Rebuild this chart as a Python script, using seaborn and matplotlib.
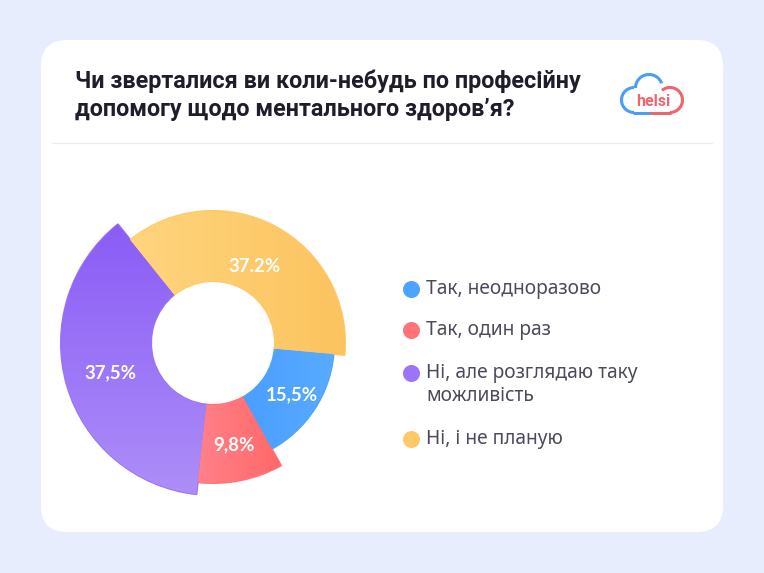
import numpy as np
import seaborn as sns
import matplotlib.pyplot as plt
from matplotlib.patches import FancyBboxPatch, Arc
from matplotlib.colors import LinearSegmentedColormap

# data
categories = ['Так, неодноразово', 'Так, один раз',
              'Ні, але розглядаю таку\nможливість', 'Ні, і не планую']
shares = [15.5, 9.8, 37.5, 37.2]
share_labels = ['15,5%', '9,8%', '37,5%', '37.2%']

title_lines = ['Чи зверталися ви коли-небудь по професійну',
               'допомогу щодо ментального здоров’я?']

# styling (pixel units, figure is 764x573)
W, H = 764, 573
outer_r = [121, 140, 152, 132]
label_r = [94, 104, 107, 87]
hole_r = 62
centre = (213, H - 343)
base_colors = ['#4DA3FF', '#FF7379', '#9B74F7', '#FEC966']
grad_colors = [('#4A9EFF', '#58ABFF', 'x'),
               ('#FF8189', '#FF6868', 'x'),
               ('#8A5CF6', '#AD8EF8', 'y'),
               ('#FFD57E', '#FCC35E', 'x')]
legend_y = [289, 330, 373, 439]

sns.set_theme(style='white')
plt.rcParams['font.family'] = ['Noto Sans', 'DejaVu Sans']

fig = plt.figure(figsize=(W / 100, H / 100), dpi=100, facecolor='#E7EDFC')
ax = fig.add_axes([0, 0, 1, 1])
ax.set_facecolor('#E7EDFC')

# white card
card = FancyBboxPatch((41, H - 532), 682, 492,
                      boxstyle='round,pad=0,rounding_size=26',
                      facecolor='white', edgecolor='none', zorder=0)
ax.add_patch(card)
ax.plot([52, 712], [H - 143, H - 143], color='#EDEDF1', lw=1, zorder=1)

# title
for i, line in enumerate(title_lines):
    ax.text(75, H - 88 - i * 28, line, fontsize=16.8, fontweight='bold',
            color='#1E1E2B', family=['Roboto', 'DejaVu Sans'],
            va='baseline', ha='left', zorder=3)

# logo
blue, red = '#4A9FF5', '#F0646E'
ax.add_patch(Arc((634, H - 100), 25, 25, theta1=90, theta2=270,
                 color=blue, lw=2.2, zorder=3))
ax.add_patch(Arc((649, H - 88), 27, 27, theta1=20, theta2=180,
                 color=blue, lw=2.2, zorder=3))
ax.plot([634, 651], [H - 112.5, H - 112.5], color=blue, lw=2.2,
        solid_capstyle='round', zorder=3)
ax.add_patch(Arc((670, H - 100), 25, 25, theta1=-90, theta2=130,
                 color=red, lw=2.2, zorder=3))
ax.plot([651, 670], [H - 112.5, H - 112.5], color=red, lw=2.2,
        solid_capstyle='round', zorder=3)
ax.text(653, H - 102, 'helsi', fontsize=11.5, fontweight='bold', color=red,
        family=['Roboto', 'DejaVu Sans'], ha='center', va='center', zorder=4)

# donut with per-slice radius
wedges, _ = ax.pie(shares, colors=base_colors, startangle=-5.2,
                   counterclock=False, radius=max(outer_r), center=centre,
                   wedgeprops=dict(width=max(outer_r) - hole_r, lw=1.5,
                                   joinstyle='round'))
for w, r, c, (c1, c2, d) in zip(wedges, outer_r, base_colors, grad_colors):
    w.set_radius(r)
    w.set_width(r - hole_r)
    w.set_edgecolor(c)
    w.set_zorder(2)
    ext = w.get_path().get_extents()
    cmap = LinearSegmentedColormap.from_list('g', [c1, c2])
    g = np.linspace(0, 1, 256)
    arr = g[None, :] if d == 'x' else g[:, None]
    im = ax.imshow(arr, cmap=cmap, extent=[ext.x0, ext.x1, ext.y0, ext.y1],
                   interpolation='bilinear', zorder=2.5, aspect='auto')
    im.set_clip_path(w)

for w, rl, lab in zip(wedges, label_r, share_labels):
    mid = np.deg2rad((w.theta1 + w.theta2) / 2)
    ax.text(centre[0] + rl * np.cos(mid), centre[1] + rl * np.sin(mid), lab,
            color='white', fontsize=13.4, fontweight='bold',
            family=['Lato', 'DejaVu Sans'], ha='center', va='center', zorder=4)

# legend
for y, lab, c in zip(legend_y, categories, base_colors):
    ax.scatter([411], [H - y], s=150, color=c, zorder=3, linewidths=0)
    parts = lab.split('\n')
    for k, part in enumerate(parts):
        ax.text(426, H - y - 23 * k, part, fontsize=13.8, color='#4A4A5A',
                ha='left', va='center', zorder=3)

ax.set_xlim(0, W)
ax.set_ylim(0, H)
ax.set_aspect('auto')
ax.axis('off')

fig.savefig('out.png', dpi=100, facecolor=fig.get_facecolor())
